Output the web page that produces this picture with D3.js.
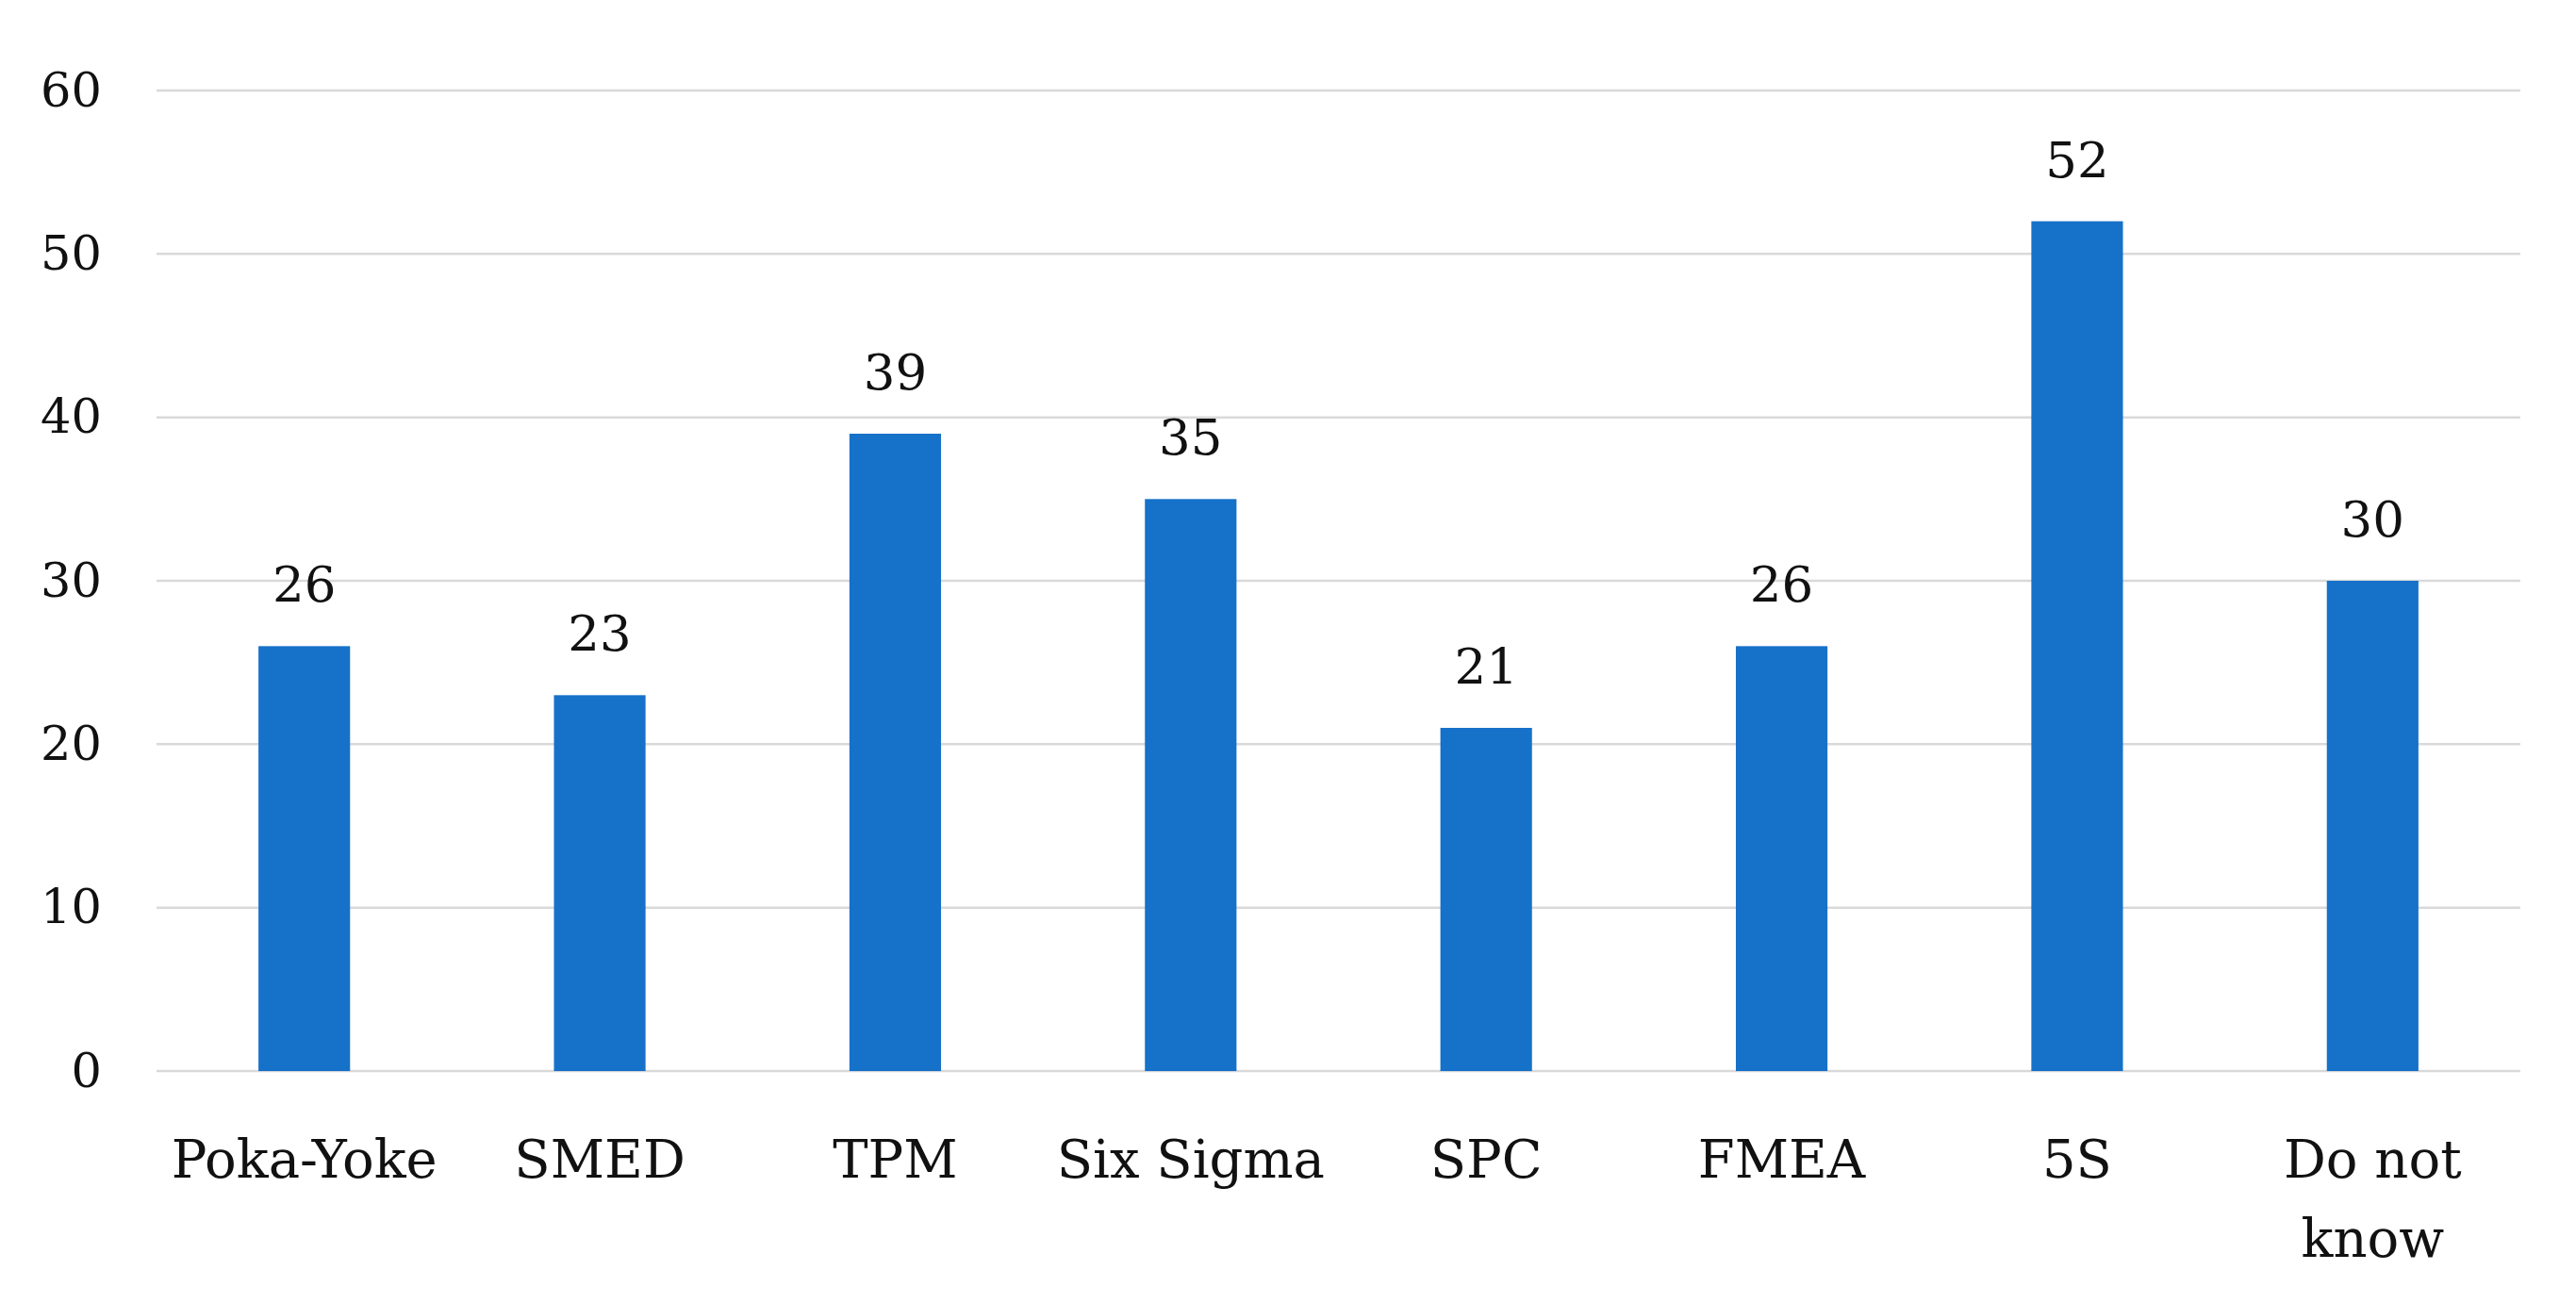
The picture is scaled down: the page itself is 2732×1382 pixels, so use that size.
<!DOCTYPE html>
<html>
<script src='https://d3js.org/d3.v7.min.js'></script>
<style>
  body {margin: 0; background: white;}
  text {font-family: 'DejaVu Serif', serif; fill: #111;}
</style>
<body onload='init()'>
<svg width=2732 height=1382></svg>
<script>
var categories = [['Poka-Yoke'], ['SMED'], ['TPM'], ['Six Sigma'], ['SPC'], ['FMEA'], ['5S'], ['Do not', 'know']]
var values = [26, 23, 39, 35, 21, 26, 52, 30]
var yTicks = [0, 10, 20, 30, 40, 50, 60]

function init() {
  var svg = d3.select('svg')
  var names = categories.map(function(c){return c.join(' ');})

  var xs = d3.scaleBand().domain(names).range([166, 2673]).paddingInner(0.69).paddingOuter(0.345)
  var ys = d3.scaleLinear().domain([0, 60]).range([1136, 96])

  // gridlines
  svg.append('g')
    .selectAll('line')
      .data(yTicks)
      .enter()
      .append('line')
        .attr('x1', 166).attr('x2', 2673)
        .attr('y1', function(d){return ys(d);})
        .attr('y2', function(d){return ys(d);})
        .attr('stroke', '#d9d9d9')
        .attr('stroke-width', 2.5)

  // y axis labels
  var yax = svg.append('g')
    .attr('transform', 'translate(108,0)')
    .call(d3.axisLeft(ys).tickValues(yTicks).tickSize(0).tickPadding(0))
  yax.select('.domain').remove()
  yax.selectAll('text')
    .attr('font-size', 51)
    .attr('font-family', 'DejaVu Serif')
    .attr('fill', '#111')

  // bars
  svg.append('g')
    .selectAll('rect')
      .data(values)
      .enter()
      .append('rect')
        .attr('x', function(d, i){return xs(names[i]);})
        .attr('width', xs.bandwidth())
        .attr('y', function(d){return ys(d);})
        .attr('height', function(d){return ys(0) - ys(d);})
        .attr('fill', '#1671c9')

  // value labels
  svg.append('g')
    .selectAll('text')
      .data(values)
      .enter()
      .append('text')
        .attr('x', function(d, i){return xs(names[i]) + xs.bandwidth()/2;})
        .attr('y', function(d){return ys(d) - 47;})
        .attr('text-anchor', 'middle')
        .attr('font-size', 53)
        .text(function(d){return d;})

  // category labels
  var cl = svg.append('g')
    .selectAll('text')
      .data(categories)
      .enter()
      .append('text')
        .attr('text-anchor', 'middle')
        .attr('font-size', 56)
        .attr('x', function(d){return xs(d.join(' ')) + xs.bandwidth()/2;})
        .attr('y', 1249)
  cl.selectAll('tspan')
    .data(function(d){return d;})
    .enter()
    .append('tspan')
      .attr('x', function(){return this.parentNode.getAttribute('x');})
      .attr('dy', function(d, i){return i ? 84 : 0;})
      .text(function(d){return d;})
}
</script>
</body>
</html>
